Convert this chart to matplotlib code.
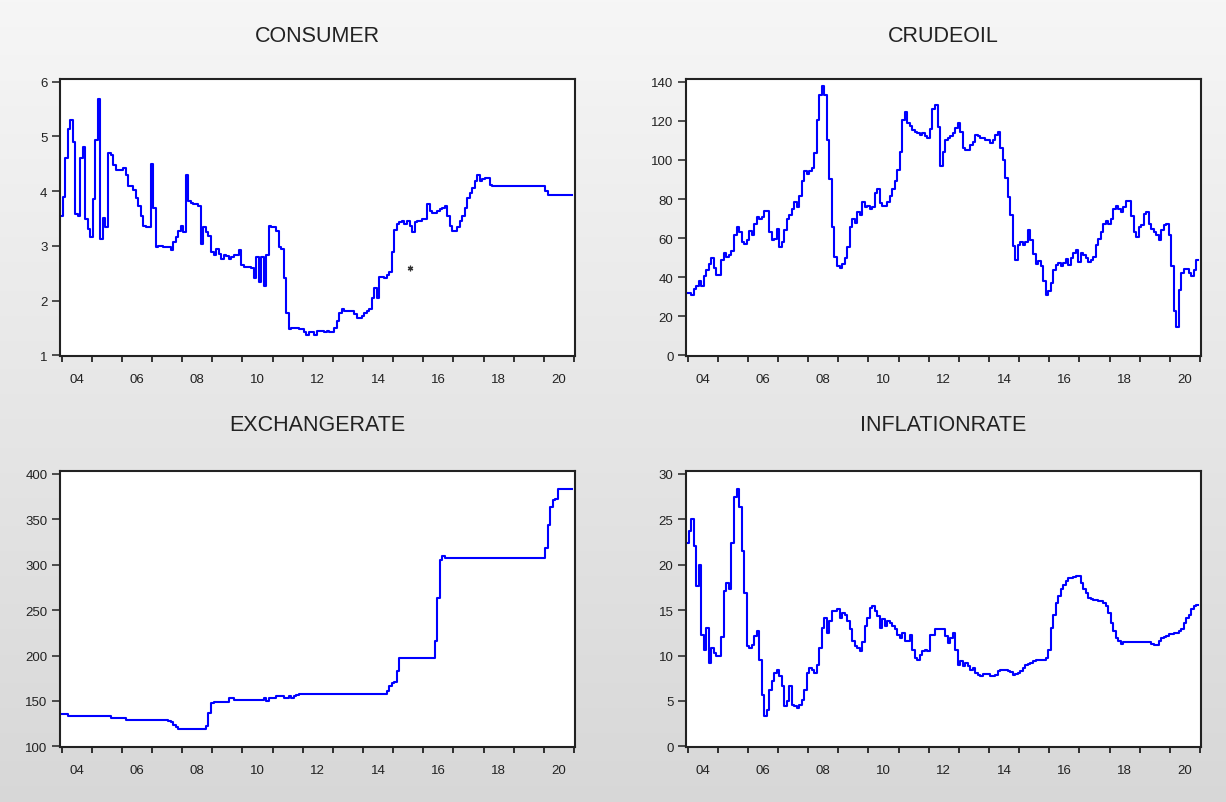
import matplotlib.pyplot as plt
import numpy as np

plt.rcParams['font.family'] = ['Liberation Sans', 'DejaVu Sans']

# monthly observations, 2004M01 - 2020M12
consumer = [
    3.55, 3.90, 4.60, 5.14, 5.30, 4.90, 3.58, 3.55, 4.60, 4.81, 3.50, 3.31,
    3.16, 3.85, 4.93, 5.69, 3.13, 3.52, 3.34, 4.69, 4.66, 4.48, 4.39, 4.39,
    4.39, 4.42, 4.30, 4.09, 4.09, 4.03, 3.88, 3.73, 3.55, 3.37, 3.34, 3.34,
    4.49, 3.70, 2.98, 3.00, 3.00, 2.98, 2.98, 2.98, 2.92, 3.07, 3.16, 3.28,
    3.37, 3.25, 4.30, 3.82, 3.79, 3.76, 3.76, 3.73, 3.04, 3.34, 3.25, 3.19,
    2.89, 2.83, 2.95, 2.86, 2.77, 2.83, 2.81, 2.77, 2.80, 2.83, 2.83, 2.92,
    2.65, 2.62, 2.62, 2.62, 2.60, 2.41, 2.80, 2.35, 2.80, 2.26, 2.83, 3.37,
    3.34, 3.34, 3.28, 2.98, 2.95, 2.41, 1.78, 1.48, 1.51, 1.51, 1.51, 1.48,
    1.48, 1.42, 1.37, 1.42, 1.42, 1.37, 1.45, 1.45, 1.45, 1.43, 1.45, 1.42,
    1.42, 1.51, 1.63, 1.78, 1.84, 1.81, 1.81, 1.81, 1.81, 1.75, 1.69, 1.69,
    1.72, 1.78, 1.81, 1.84, 2.05, 2.23, 2.05, 2.44, 2.44, 2.41, 2.47, 2.53,
    2.89, 3.30, 3.40, 3.43, 3.46, 3.41, 3.46, 3.37, 3.25, 3.43, 3.46, 3.46,
    3.49, 3.49, 3.76, 3.64, 3.61, 3.61, 3.64, 3.67, 3.70, 3.73, 3.55, 3.37,
    3.28, 3.28, 3.35, 3.45, 3.55, 3.70, 3.88, 3.97, 4.06, 4.18, 4.30, 4.18,
    4.22, 4.24, 4.24, 4.12, 4.09, 4.09, 4.09, 4.09, 4.09, 4.09, 4.09, 4.09,
    4.09, 4.09, 4.09, 4.09, 4.09, 4.09, 4.09, 4.09, 4.09, 4.09, 4.09, 4.09,
    4.09, 4.00, 3.93, 3.93, 3.93, 3.93, 3.93, 3.93, 3.93, 3.93, 3.93, 3.93,
]
consumer_stray = (2015.55, 2.6)

crudeoil = [
    32.0, 32.0, 31.0, 34.0, 35.4, 38.0, 35.7, 40.7, 43.5, 46.8, 49.7, 44.6,
    41.2, 41.0, 48.8, 52.3, 50.5, 51.3, 53.5, 61.4, 65.7, 63.0, 58.0, 57.0,
    59.3, 63.6, 61.4, 67.3, 71.0, 70.0, 71.0, 74.0, 74.0, 63.0, 58.9, 59.8,
    64.8, 55.6, 58.0, 64.0, 69.9, 72.0, 74.9, 78.3, 75.8, 81.6, 89.0, 94.3,
    92.6, 94.3, 96.0, 103.5, 120.4, 133.0, 137.7, 133.0, 110.0, 90.0, 65.7, 50.5,
    46.0, 44.6, 47.0, 50.0, 55.6, 65.7, 69.9, 68.0, 73.2, 72.0, 78.3, 76.0,
    76.6, 75.0, 75.8, 83.0, 85.0, 78.0, 76.6, 76.6, 78.3, 81.6, 85.0, 89.2,
    95.0, 104.0, 120.4, 124.6, 119.0, 117.5, 115.5, 114.5, 113.6, 112.8, 113.6, 112.0,
    111.0, 116.0, 126.0, 128.0, 117.0, 97.0, 104.0, 110.0, 111.0, 112.0, 113.6, 116.5,
    118.7, 114.5, 106.0, 105.2, 105.2, 107.7, 109.4, 112.8, 112.0, 111.4, 111.0, 110.3,
    110.0, 108.6, 110.3, 112.8, 114.5, 106.0, 100.0, 91.0, 81.0, 72.0, 56.0, 48.8,
    56.4, 58.0, 56.4, 58.0, 64.0, 59.0, 52.0, 47.0, 48.5, 45.5, 38.0, 31.0,
    33.0, 37.0, 43.8, 46.3, 47.1, 45.5, 47.1, 49.2, 46.3, 49.7, 52.5, 53.9,
    48.0, 52.2, 51.3, 49.7, 48.0, 48.8, 50.5, 56.4, 59.8, 63.1, 67.3, 69.0,
    67.3, 69.9, 74.9, 76.6, 74.9, 73.2, 75.8, 79.1, 79.1, 71.5, 63.1, 60.6,
    65.7, 66.5, 72.4, 73.2, 67.3, 64.8, 63.1, 61.4, 59.0, 64.0, 66.5, 67.3,
    61.4, 45.5, 22.7, 14.3, 33.7, 42.1, 44.1, 44.1, 42.1, 40.4, 43.8, 48.8,
]

exchangerate = (
    [136.0] * 3 + [133.7] * 17 + [131.2] * 6 + [128.6] * 17
    + [127.5, 126.4, 123.8, 120.9] + [119.0] * 11 + [122.0, 136.7, 147.7]
    + [148.4] * 6 + [153.2, 153.0] + [150.6] * 12 + [153.0, 150.3]
    + [153.2, 153.2, 153.2, 155.8, 155.8, 155.8, 153.2, 153.2, 155.8, 153.2, 155.8, 157.0]
    + [158.0] * 35 + [161.3, 166.0, 169.7, 171.0, 182.5] + [197.2] * 14
    + [215.5, 263.0, 305.0, 310.0] + [307.3] * 40
    + [318.3, 344.0, 363.0, 371.5, 372.0] + [383.0] * 6
)

inflationrate = [
    22.4, 23.7, 25.0, 22.0, 17.6, 20.0, 12.3, 10.6, 13.0, 9.2, 10.8, 10.3,
    9.9, 9.9, 12.0, 17.1, 18.0, 17.3, 22.4, 27.4, 28.3, 26.3, 21.5, 16.9,
    11.0, 10.8, 11.2, 12.1, 12.7, 9.5, 5.7, 3.3, 4.0, 6.2, 7.2, 8.1,
    8.4, 7.7, 6.6, 4.4, 5.0, 6.6, 4.6, 4.4, 4.2, 4.6, 5.1, 6.2,
    8.1, 8.6, 8.4, 8.1, 9.0, 10.8, 13.0, 14.1, 12.5, 13.8, 14.9, 14.9,
    15.1, 14.1, 14.7, 14.5, 13.8, 12.9, 11.6, 11.0, 10.8, 10.5, 11.5, 13.2,
    14.1, 15.2, 15.4, 14.9, 14.3, 13.0, 14.0, 13.2, 13.8, 13.6, 13.2, 12.9,
    12.3, 11.9, 12.5, 11.6, 11.6, 12.3, 10.6, 9.7, 9.5, 10.1, 10.5, 10.6,
    10.5, 12.3, 12.3, 12.9, 12.9, 12.9, 12.9, 12.1, 11.4, 11.9, 12.5, 10.6,
    9.0, 9.4, 8.8, 9.2, 8.8, 8.4, 8.6, 8.1, 7.9, 7.7, 8.0, 8.0,
    8.0, 7.7, 7.8, 7.9, 8.3, 8.4, 8.4, 8.4, 8.3, 8.2, 7.9, 8.0,
    8.1, 8.3, 8.6, 9.0, 9.1, 9.2, 9.4, 9.5, 9.5, 9.5, 9.5, 9.7,
    10.6, 13.0, 14.5, 15.8, 16.5, 17.3, 17.8, 18.2, 18.5, 18.5, 18.6, 18.8,
    18.7, 18.0, 17.3, 16.9, 16.3, 16.2, 16.1, 16.1, 16.0, 16.0, 15.8, 15.4,
    14.7, 13.6, 12.7, 11.9, 11.6, 11.3, 11.5, 11.5, 11.5, 11.5, 11.5, 11.5,
    11.5, 11.5, 11.5, 11.5, 11.5, 11.3, 11.2, 11.2, 11.6, 11.9, 12.0, 12.1,
    12.4, 12.4, 12.5, 12.5, 12.7, 12.9, 13.6, 14.1, 14.5, 15.1, 15.4, 15.6,
]

start_year = 2004
end_year = 2021
year_labels = ["04", "06", "08", "10", "12", "14", "16", "18", "20"]

panels = [
    ("CONSUMER", consumer, (1, 6), [1, 2, 3, 4, 5, 6]),
    ("CRUDEOIL", crudeoil, (0, 140), [0, 20, 40, 60, 80, 100, 120, 140]),
    ("EXCHANGERATE", exchangerate, (100, 400), [100, 150, 200, 250, 300, 350, 400]),
    ("INFLATIONRATE", inflationrate, (0, 30), [0, 5, 10, 15, 20, 25, 30]),
]

W, H = 1226, 803
# plot frames in pixels: left, top, right, bottom
frames = [(60, 80, 575, 357), (686, 80, 1201, 357),
          (60, 472, 575, 748), (686, 472, 1201, 748)]
title_y = [37, 36, 426, 426]

fig = plt.figure(figsize=(W / 100, H / 100), dpi=100)

# light grey vertical gradient behind the panels
bg = fig.add_axes([0, 0, 1, 1], zorder=-5)
shade = np.linspace(0.965, 0.845, 256)
grad = np.dstack([shade, shade, shade]).reshape(256, 1, 3)
bg.imshow(grad, aspect="auto", extent=[0, 1, 0, 1], origin="upper")
bg.axis("off")

for (name, values, ylim, yticks), (l, t, r, b), ty in zip(panels, frames, title_y):
    ax = fig.add_axes([l / W, 1 - b / H, (r - l) / W, (b - t) / H])
    vals = np.array(values, dtype=float)
    x = start_year + np.arange(len(vals)) / 12.0
    # EViews-like jagged monthly line
    ax.plot(x, vals, color="#0000ff", lw=1.5, drawstyle="steps-mid")
    if name == "CONSUMER":
        ax.plot([consumer_stray[0]], [consumer_stray[1]], marker=(6, 2, 0),
                ms=4, color="#333333", mew=0.9)

    ax.set_xlim(start_year - 0.05, end_year + 0.03)
    ax.set_ylim(ylim[0] - (ylim[1] - ylim[0]) * 0.002, ylim[1] + (ylim[1] - ylim[0]) * 0.01)
    ax.set_yticks(yticks)
    ax.set_yticklabels([str(v) for v in yticks])
    ax.set_xticks(np.arange(start_year, end_year + 1))
    ax.set_xticklabels([])
    ax.set_xticks(np.arange(start_year, end_year, 2) + 0.5, minor=True)
    ax.set_xticklabels(year_labels, minor=True)

    ax.tick_params(axis="y", direction="out", length=6, width=1.1, pad=3,
                   labelsize=9.5, colors="#222222", right=False)
    ax.tick_params(axis="x", which="major", direction="out", length=4.5, width=1.1, top=False)
    ax.tick_params(axis="x", which="minor", length=0, pad=12, labelsize=9.5, colors="#222222")
    for s in ax.spines.values():
        s.set_linewidth(1.5)
        s.set_color("#222222")
    ax.set_facecolor("white")

    fig.text((l + r) / 2 / W, 1 - ty / H, name, ha="center", va="center",
             fontsize=15.5, color="#222222")

plt.savefig("out.png", dpi=100)
plt.close()
